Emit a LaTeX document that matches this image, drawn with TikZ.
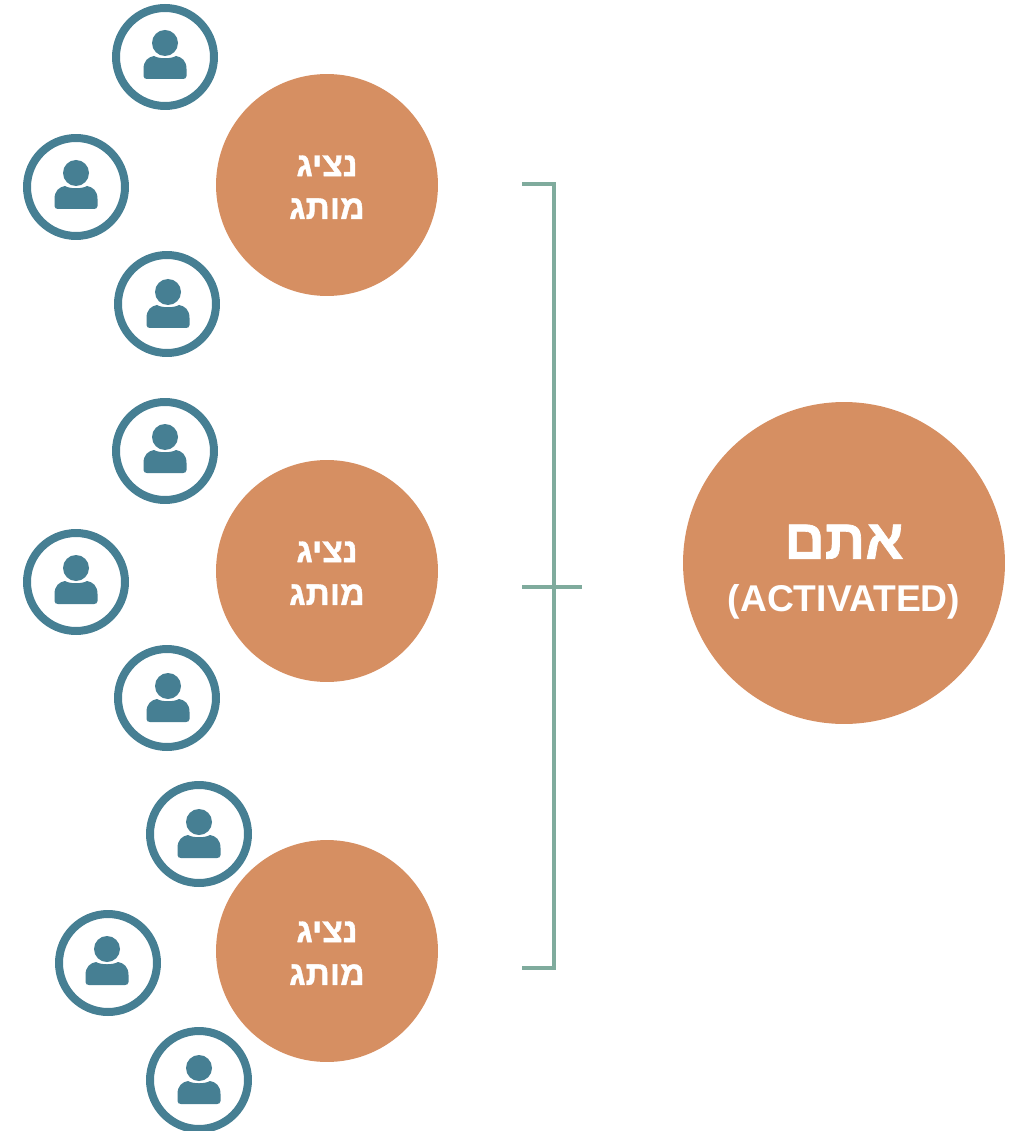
\documentclass[tikz,border=0pt]{standalone}
\usepackage{fontspec}
\setmainfont{Liberation Sans}
\newfontfamily\hebfont[Script=Hebrew,BoldFeatures={FakeBold=1.2}]{Liberation Sans}
\TeXXeTstate=1
\definecolor{brandorange}{HTML}{D68F62}
\definecolor{ringteal}{HTML}{467F93}
\definecolor{bracketgreen}{HTML}{7FAB9D}
\tikzset{
  brandcircle/.style={circle, fill=brandorange, text=white, inner sep=0pt, minimum size=4.44cm, align=center,
                      font=\hebfont\bfseries\fontsize{19.3}{24.4}\selectfont},
  youcircle/.style={circle, fill=brandorange, text=white, inner sep=0pt, minimum size=6.44cm, align=center},
  userring/.style={circle, draw=ringteal, fill=white, line width=0.16cm, inner sep=0pt, minimum size=1.96cm},
  bracketline/.style={draw=bracketgreen, line width=0.065cm},
  personicon/.pic={
    \fill[ringteal] (0,-14) circle (13);
    \fill[ringteal] (-21.5,19) -- (-21.5,12) .. controls (-21.5,4) and (-17,0) .. (-11,-1)
      .. controls (-6,2) and (6,2) .. (11,-1) .. controls (17,0) and (21.5,4) .. (21.5,12)
      -- (21.5,19) .. controls (21.5,21) and (20,22) .. (18,22) -- (-18,22)
      .. controls (-20,22) and (-21.5,21) .. (-21.5,19) -- cycle;
  }
}
\begin{document}
\begin{tikzpicture}[x=0.02cm, y=-0.02cm]
      \useasboundingbox (0, 0) rectangle (1015, 1131);
      % brand people
      \foreach \name/\xpos/\ypos in {a/327/185, b/327/571, c/327/951}
        \node[brandcircle] (brand\name) at (\xpos, \ypos) {\rule{0pt}{0.5cm}\beginR נציג\endR\\\beginR מותג\endR};
      % users around them
      \foreach \name/\xpos/\ypos/\dx/\dy in {a1/165/57/0/0, a2/76/187/0/0, a3/167/304/1/2,
                                     b1/165/451/0/0, b2/76/582/0/0, b3/167/698/1/2,
                                     c1/199/834/0/2, c2/108/963/-1/0, c3/199/1080/0/2} {
        \node[userring] (user\name) at (\xpos, \ypos) {};
        \pic at ([shift={(\dx, \dy)}]user\name) {personicon};
      }
      % you
      \node[youcircle] (activated) at (844, 563)
        {{\hebfont\bfseries\fontsize{32}{34}\selectfont\rule{0pt}{1.04cm}\beginR אתם\endR}\\[0.48cm]
         {\bfseries\fontsize{21.2}{24}\selectfont (ACTIVATED)}};
      % bracket
      \coordinate (brackettop) at (522, 184);
      \coordinate (bracketbottom) at (522, 968);
      \coordinate (tickleft) at (522, 587);
      \coordinate (tickright) at (582, 587);
      \draw[bracketline] (brackettop) -- (554, 184) -- (554, 968) -- (bracketbottom);
      \draw[bracketline] (tickleft) -- (tickright);
\end{tikzpicture}
\end{document}
